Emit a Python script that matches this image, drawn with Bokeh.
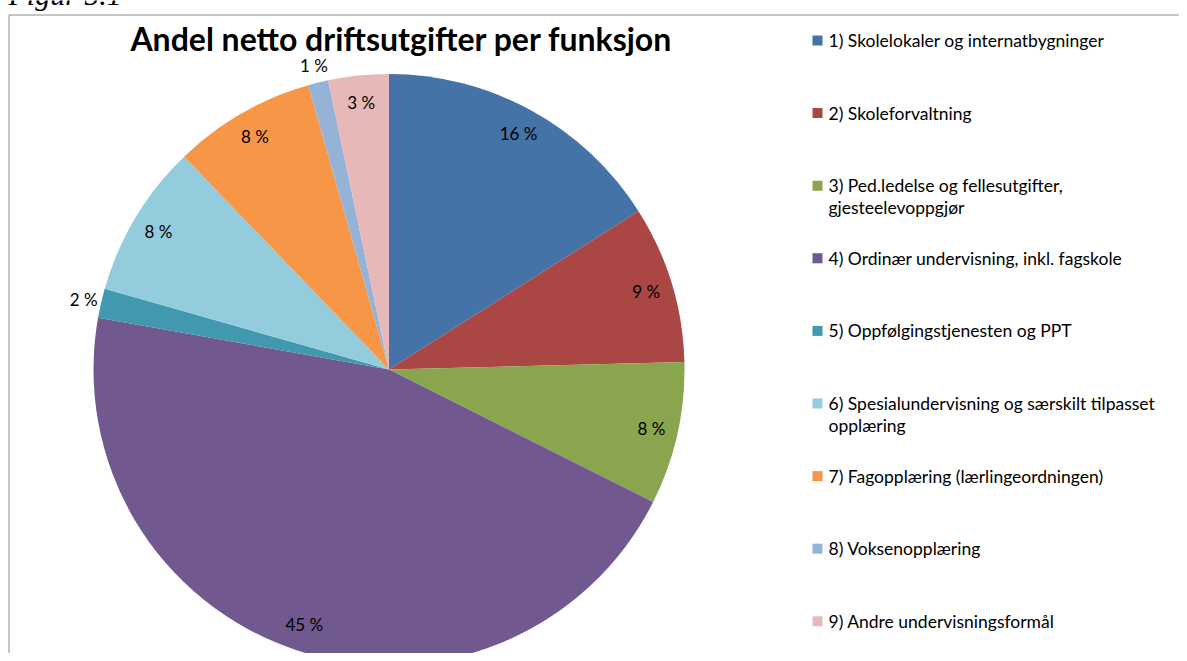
import numpy as np
from bokeh.plotting import figure
from bokeh.models import Range1d, ColumnDataSource
from bokeh.core.properties import value
from bokeh.embed import file_html
from bokeh.resources import INLINE

title = "Andel netto driftsutgifter per funksjon"
categories = [
    "1) Skolelokaler og internatbygninger",
    "2) Skoleforvaltning",
    "3) Ped.ledelse og fellesutgifter,\ngjesteelevoppgjør",
    "4) Ordinær undervisning, inkl. fagskole",
    "5) Oppfølgingstjenesten og PPT",
    "6) Spesialundervisning og særskilt tilpasset\nopplæring",
    "7) Fagopplæring (lærlingeordningen)",
    "8) Voksenopplæring",
    "9) Andre undervisningsformål",
]
shares = [16.0, 8.6, 7.8, 45.4, 1.6, 8.4, 7.8, 1.1, 3.3]
colors = ["#4572A7", "#AA4643", "#89A54E", "#71588F", "#4198AF",
          "#93CDDD", "#F79646", "#95B3D7", "#E6B9B8"]

W, H = 1179, 653
FONT = "Lato"

p = figure(width=W, height=H, output_backend="svg", toolbar_location=None,
           x_range=Range1d(0, W), y_range=Range1d(H, 0),
           min_border=0, outline_line_color=None)
p.axis.visible = False
p.grid.visible = False
p.background_fill_color = "white"
p.border_fill_color = "white"

# chart border (left and top edges; the rest lies outside the view)
p.segment(x0=[8.5, 8.5], y0=[14.5, 14.5], x1=[8.5, W + 5], y1=[H + 5, 14.5],
          line_color="#8C8C8C", line_width=1)

# "Figur 5.1" caption (cut at top)
p.text(x=[8], y=[-6], text=["Figur 5.1"], text_font=value("Liberation Serif"),
       text_font_style="italic", text_font_size="30px", text_baseline="alphabetic",
       text_align="left", text_color="black")

# pie
cx, cy, R = 388.5, 369, 295.5
vals = np.array(shares, dtype=float)
frac = vals / vals.sum()
cum = np.concatenate([[0], np.cumsum(frac)])
# wedge angles: math orientation on screen, start at 12 o'clock, clockwise
start = np.pi / 2 - 2 * np.pi * cum[:-1]
end = np.pi / 2 - 2 * np.pi * cum[1:]
src = ColumnDataSource(dict(x=[cx] * len(vals), y=[cy] * len(vals),
                            s=start, e=end, c=colors))
p.wedge(x="x", y="y", radius=R, start_angle="s", end_angle="e",
        fill_color="c", line_color=None, direction="clock", source=src)

# labels (screen y grows downward)
mid = (start + end) / 2
rf = np.where(vals < 2.0, 1.06, 0.91)
lx = cx + R * rf * np.cos(mid)
ly = cy - R * rf * np.sin(mid)
labels = [f"{int(round(v))} %" for v in vals]
p.text(x=lx, y=ly, text=labels, text_font=value(FONT), text_font_size="17px",
       text_align="center", text_baseline="middle", text_color="black")

# title
p.text(x=[401], y=[38], text=[title], text_font=value(FONT), text_font_style="bold",
       text_font_size="32px", text_align="center", text_baseline="middle", text_color="black")

# legend
ly0, dy = 40, 72.6
leg_y = [ly0 + i * dy for i in range(len(categories))]
p.rect(x=[817] * len(categories), y=leg_y, width=10, height=10,
       width_units="screen", height_units="screen", fill_color=colors, line_color=None)
p.text(x=[828] * len(categories), y=[y - 10.5 for y in leg_y], text=categories,
       text_font=value(FONT), text_font_size="17.5px", text_align="left",
       text_baseline="top", text_line_height=1.05, text_color="black")

open("out.html", "w").write(file_html(p, INLINE))
